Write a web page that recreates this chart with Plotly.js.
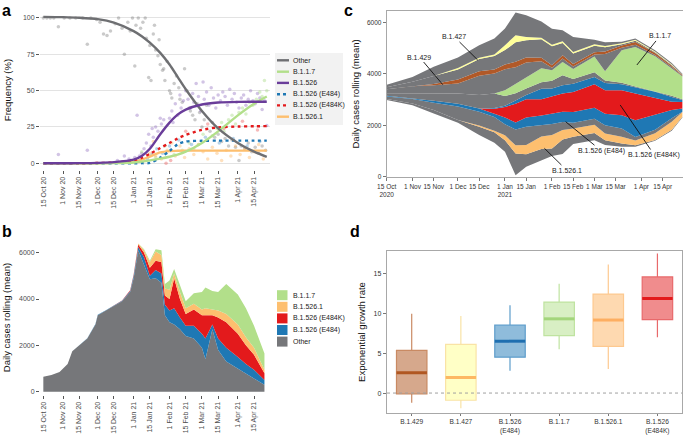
<!DOCTYPE html>
<html><head><meta charset="utf-8">
<script src="https://cdn.plot.ly/plotly-3.0.1.min.js"></script>
<style>html,body{margin:0;padding:0;background:#fff}#chart{width:683px;height:435px}</style>
</head><body><div id="chart"></div>
<script>
// ---------------- DATA ----------------
// shared date ticks
const tickDates = ['2020-10-15','2020-11-01','2020-11-15','2020-12-01','2020-12-15','2021-01-01','2021-01-15','2021-02-01','2021-02-15','2021-03-01','2021-03-15','2021-04-01','2021-04-15'];
const tickTextAB = ['15 Oct 20','1 Nov 20','15 Nov 20','1 Dec 20','15 Dec 20','1 Jan 21','15 Jan 21','1 Feb 21','15 Feb 21','1 Mar 21','15 Mar 21','1 Apr 21','15 Apr 21'];
const tickTextC = ['15 Oct<br>2020','1 Nov','15 Nov','1 Dec','15 Dec','1 Jan<br>2021','15 Jan','1 Feb','15 Feb','1 Mar','15 Mar','1 Apr','15 Apr'];

// Panel a: fitted frequency curves (%)
const aCurveDates = ['2020-10-15','2020-11-01','2020-11-15','2020-12-01','2020-12-15','2021-01-01','2021-01-08','2021-01-15','2021-01-24','2021-02-01','2021-02-08','2021-02-15','2021-03-01','2021-03-15','2021-04-01','2021-04-15','2021-04-26'];
const aOther  = [100.8,100.6,100.2,99.2,96.8,91,87.5,83,76,68,59.5,51,36,24,14,8,4.5];
const aB117   = [0,0,0,0,0.1,0.6,1.2,2,3.2,4.5,6,8,14,22,33,41,46];
const aB1526  = [0,0.05,0.1,0.3,0.8,2.5,5,10,20,28,33.5,37,40.5,41.8,42.3,42.4,42.4];
const aE484   = [0,0,0,0,0,0.05,0.1,0.3,4,8.5,13,15,15.5,15.6,15.6,15.6,15.6];
const aE484K  = [0,0,0.05,0.2,0.6,2,3.8,6.5,10.5,14,17,19.5,23,24.7,25.3,25.5,25.6];
const aB15261 = [0,0,0,0.1,0.3,1.1,2.5,4.6,7.5,8.4,8.6,8.7,8.7,8.7,8.7,8.7,8.7];
const aLegendNames = ['Other','B.1.1.7','B.1.526','B.1.526 (E484)','B.1.526 (E484K)','B.1.526.1'];

// Panel a: observed daily frequencies (points)
const ptOtherDates = ['2020-10-15','2020-10-18','2020-10-21','2020-10-24','2020-10-28','2020-11-02','2020-11-07','2020-11-12','2020-11-18','2020-11-22','2020-11-25','2020-11-30','2020-12-03','2020-12-06','2020-12-09','2020-12-12','2020-12-16','2020-12-19','2020-12-22','2020-12-24','2020-12-27','2020-12-29','2020-12-31','2021-01-02','2021-01-03','2021-01-05','2021-01-07','2021-01-09','2021-01-11','2021-01-12','2021-01-14','2021-01-15','2021-01-16','2021-01-18','2021-01-19','2021-01-20','2021-01-22','2021-01-23','2021-01-24','2021-01-26','2021-01-27','2021-01-28','2021-01-30','2021-02-01','2021-02-02','2021-02-03','2021-02-05','2021-02-07','2021-02-09','2021-02-10','2021-02-12','2021-02-14','2021-02-16','2021-02-18','2021-02-19','2021-02-21','2021-02-23','2021-02-25','2021-02-27','2021-03-01','2021-03-03','2021-03-05','2021-03-08','2021-03-10','2021-03-12','2021-03-15','2021-03-18','2021-03-21','2021-03-24','2021-03-27','2021-03-30','2021-04-02','2021-04-04','2021-04-07','2021-04-10','2021-04-13','2021-04-16','2021-04-19','2021-04-22','2021-04-25'];
const ptOther = [100,100,100,100,94,100,100,100,100,82,100,99,97,89,88,91,96,100,93,75,97,91,100,67,95,100,93,97,100,86,59,81,57,89,95,78,74,85,68,64,65,57,70,50,48,45,55,60,52,44,42,65,50,38,36,33,30,41,35,25,30,40,22,28,18,20,15,17,12,16,11,2,12,10,14,8,11,7,12,9];
const ptB1526Dates = ['2020-10-28','2020-11-22','2020-12-18','2020-12-24','2020-12-28','2021-01-02','2021-01-04','2021-01-06','2021-01-08','2021-01-10','2021-01-12','2021-01-14','2021-01-16','2021-01-17','2021-01-18','2021-01-20','2021-01-22','2021-01-24','2021-01-25','2021-01-27','2021-02-01','2021-02-03','2021-02-04','2021-02-06','2021-02-08','2021-02-10','2021-02-11','2021-02-13','2021-02-15','2021-02-17','2021-02-19','2021-02-21','2021-02-22','2021-02-24','2021-02-26','2021-02-28','2021-03-02','2021-03-03','2021-03-05','2021-03-07','2021-03-09','2021-03-11','2021-03-13','2021-03-15','2021-03-17','2021-03-19','2021-03-21','2021-03-23','2021-03-25','2021-03-27','2021-03-29','2021-03-31','2021-04-02','2021-04-04','2021-04-06','2021-04-08','2021-04-10','2021-04-12','2021-04-14','2021-04-16','2021-04-18','2021-04-20','2021-04-22','2021-04-24','2021-04-26'];
const ptB1526 = [6,9,2,5,3,4,33,5,7,10,14,20,12,24,18,25,22,31,27,30,31,36,28,41,33,47,38,43,50,44,38,48,42,55,46,36,56,44,49,40,52,45,38,47,43,49,46,40,51,44,48,42,38,45,47,40,44,50,43,41,48,45,37,43,26];
const ptB117Dates = ['2021-01-08','2021-01-20','2021-01-28','2021-02-05','2021-02-12','2021-02-18','2021-02-22','2021-02-26','2021-03-02','2021-03-06','2021-03-10','2021-03-14','2021-03-18','2021-03-20','2021-03-24','2021-03-27','2021-03-30','2021-04-02','2021-04-05','2021-04-08','2021-04-11','2021-04-14','2021-04-17','2021-04-20','2021-04-22','2021-04-24','2021-04-26'];
const ptB117 = [8,4,12,6,9,14,10,13,20,16,19,24,28,22,30,33,27,35,38,34,42,40,44,49,46,57,50];
const ptB15261Dates = ['2021-01-10','2021-01-15','2021-01-18','2021-01-20','2021-01-25','2021-01-30','2021-02-03','2021-02-06','2021-02-10','2021-02-14','2021-02-18','2021-02-22','2021-02-26','2021-03-02','2021-03-06','2021-03-10','2021-03-14','2021-03-18','2021-03-22','2021-03-26','2021-03-30','2021-04-03','2021-04-07','2021-04-11','2021-04-15','2021-04-19','2021-04-23'];
const ptB15261 = [2,7,15,5,3,9,14,5,12,4,10,6,13,8,3,11,7,2,9,5,12,6,10,4,8,13,3];
const ptE484Dates = ['2021-01-13','2021-01-17','2021-01-21','2021-01-26','2021-02-01','2021-02-09','2021-02-20','2021-03-04','2021-03-16','2021-03-28','2021-04-09','2021-04-20'];
const ptE484 = [3,6,10,7,12,16,13,18,14,17,12,15];
const ptE484KDates = ['2021-01-29','2021-02-02','2021-02-15','2021-03-06','2021-03-20','2021-04-05','2021-04-18'];
const ptE484K = [0,2,22,27,24,29,23];

// Panel b: daily cases rolling mean by lineage (stacked)
const bDates = ['2020-10-15','2020-10-22','2020-10-29','2020-11-05','2020-11-09','2020-11-15','2020-11-22','2020-11-29','2020-12-01','2020-12-08','2020-12-15','2020-12-22','2020-12-29','2021-01-01','2021-01-05','2021-01-10','2021-01-15','2021-01-20','2021-01-25','2021-01-28','2021-02-01','2021-02-05','2021-02-10','2021-02-15','2021-02-22','2021-03-01','2021-03-04','2021-03-10','2021-03-15','2021-03-22','2021-04-01','2021-04-08','2021-04-15','2021-04-24'];
const bOther  = [650,720,850,1200,1750,2000,2300,2900,3300,3500,3700,3900,4300,4900,6100,5500,4850,4900,4700,3300,3000,2900,2700,2400,2300,1900,1400,2700,1800,1300,1000,800,600,300];
const bE484   = [0,0,0,0,0,10,10,20,20,20,20,20,50,100,150,300,150,350,400,450,500,700,500,450,550,600,900,200,500,600,500,400,350,200];
const bE484K  = [0,0,0,0,0,0,0,0,0,0,10,20,30,50,100,200,350,400,500,400,500,1300,800,500,700,800,1000,400,900,1100,1000,800,650,300];
const bB15261 = [0,0,0,0,0,0,0,0,0,0,0,0,0,10,50,100,250,400,300,300,400,200,300,250,250,250,300,250,300,350,400,350,300,150];
const bB117   = [0,0,0,0,0,0,0,0,0,0,0,0,0,0,0,50,50,100,200,200,400,200,300,300,450,750,900,800,800,1300,1300,1250,950,700];
const bLegendNames = ['B.1.1.7','B.1.526.1','B.1.526 (E484K)','B.1.526 (E484)','Other'];

// Panel c: streamgraph (baseline offset + layer thickness, bottom to top)
const cDates = ['2020-10-15','2020-11-01','2020-11-15','2020-12-01','2020-12-15','2020-12-25','2021-01-01','2021-01-08','2021-01-15','2021-01-25','2021-02-01','2021-02-08','2021-02-15','2021-03-01','2021-03-08','2021-03-19','2021-03-28','2021-04-10','2021-04-21','2021-04-28'];
const cBaseline  = [2980,2780,2460,2100,1620,1320,970,60,390,650,800,880,1270,1420,1230,1160,1160,1400,1790,2300];
const cOtherA    = [40,65,130,100,320,410,450,840,480,430,300,570,280,280,190,130,60,30,30,30];
const cB15261    = [0,0,0,0,50,60,190,320,360,480,520,360,320,320,260,260,190,260,320,180];
const cOtherB    = [100,170,285,530,530,530,430,610,710,430,430,320,230,230,320,320,130,130,130,10];
const cE484Low   = [30,40,80,100,130,130,260,280,360,390,410,390,410,430,450,520,650,580,320,130];
const cE484K     = [0,0,0,0,0,190,410,720,710,630,650,710,780,910,910,970,1040,650,320,250];
const cE484High  = [0,0,0,0,0,30,50,130,160,410,320,320,320,280,280,230,230,250,190,80];
const cOtherC    = [90,180,260,400,520,560,380,280,260,250,300,390,190,190,100,60,50,30,50,30];
const cB117      = [0,0,0,0,0,0,220,360,430,540,410,520,390,610,360,1260,1530,1350,1050,880];
const cOtherD    = [160,280,340,390,750,780,820,650,580,280,90,130,90,80,670,100,90,50,60,30];
const cB1429     = [0,0,50,160,180,160,180,220,190,130,100,130,100,90,100,90,100,80,50,30];
const cOtherE    = [80,170,310,390,470,520,560,750,670,720,740,480,410,250,160,50,50,30,30,10];
const cB1427     = [0,0,0,50,50,60,190,280,130,60,60,60,60,60,50,40,40,30,30,10];
const cOtherF    = [90,190,360,410,490,620,650,880,840,630,620,430,580,170,140,50,50,40,50,30];

// Panel d: exponential growth rate boxes
const dCats  = ['B.1.429','B.1.427','B.1.526<br>(E484)','B.1.1.7','B.1.526.1','B.1.526<br>(E484K)'];
const dLow   = [-1.2,-1.9,2.8,5.5,3.0,7.0];
const dQ1    = [-0.1,-0.9,4.5,7.2,5.85,9.2];
const dMed   = [2.55,1.95,6.5,9.3,9.15,11.85];
const dQ3    = [5.35,6.1,8.5,11.4,12.4,14.55];
const dHigh  = [9.95,9.65,11.0,13.7,16.1,17.5];

// ---------------- STYLE ----------------
const FONT = 'Liberation Sans, Arial, Helvetica, sans-serif';
const C = {other:'#76777a', otherLine:'#6e6f72', b117:'#b2df8a', b1526:'#6a3d9a', e484:'#1f78b4', e484k:'#e31a1c', b15261:'#fdbf6f', b1429:'#b15928', b1427:'#ffff99'};
const W = 683, H = 435;
const px = v => v / W, py = v => 1 - v / H;

const traces = [];
// ---- panel a points
function pts(x, y, col) {
  traces.push({type:'scatter', mode:'markers', x:x, y:y, xaxis:'x', yaxis:'y',
    marker:{size:3.5, color:col, opacity:0.4}, hoverinfo:'skip', showlegend:false});
}
pts(ptOtherDates, ptOther, '#7a7a7a');
pts(ptB1526Dates, ptB1526, '#8e6bbf');
pts(ptB117Dates, ptB117, '#9fd67a');
pts(ptB15261Dates, ptB15261, '#fdb25a');
pts(ptE484Dates, ptE484, '#4a90c8');
pts(ptE484KDates, ptE484K, '#e85050');
// ---- panel a curves
const aSeries = [
  {y:aB15261, col:C.b15261, dash:'solid', name:aLegendNames[5]},
  {y:aE484, col:C.e484, dash:'3px,3.5px', name:aLegendNames[3]},
  {y:aE484K, col:C.e484k, dash:'3px,3.5px', name:aLegendNames[4]},
  {y:aB117, col:C.b117, dash:'solid', name:aLegendNames[1]},
  {y:aOther, col:C.otherLine, dash:'solid', name:aLegendNames[0]},
  {y:aB1526, col:C.b1526, dash:'solid', name:aLegendNames[2]}
];
aSeries.forEach(s => traces.push({type:'scatter', mode:'lines', x:aCurveDates, y:s.y, name:s.name,
  xaxis:'x', yaxis:'y', line:{color:s.col, width:2.4, dash:s.dash, shape:'spline', smoothing:0.8},
  hoverinfo:'skip', showlegend:false}));

// ---- panel b stacked areas
[[bOther,C.other,'Other'],[bE484,C.e484,'B.1.526 (E484)'],[bE484K,C.e484k,'B.1.526 (E484K)'],[bB15261,C.b15261,'B.1.526.1'],[bB117,C.b117,'B.1.1.7']]
.forEach(([y,col,name]) => traces.push({type:'scatter', mode:'lines', x:bDates, y:y, name:name, stackgroup:'b',
  xaxis:'x2', yaxis:'y2', line:{width:0, color:col}, fillcolor:col, hoverinfo:'skip', showlegend:false}));

// ---- panel c streamgraph
traces.push({type:'scatter', mode:'lines', x:cDates, y:cBaseline, stackgroup:'c', fill:'tozeroy',
  xaxis:'x3', yaxis:'y3', line:{width:0, color:'rgba(0,0,0,0)'}, fillcolor:'rgba(0,0,0,0)', hoverinfo:'skip', showlegend:false});
[[cOtherA,C.other],[cB15261,C.b15261],[cOtherB,C.other],[cE484Low,C.e484],[cE484K,C.e484k],[cE484High,C.e484],
 [cOtherC,C.other],[cB117,C.b117],[cOtherD,C.other],[cB1429,C.b1429],[cOtherE,C.other],[cB1427,C.b1427],[cOtherF,C.other]]
.forEach(([y,col]) => traces.push({type:'scatter', mode:'lines', x:cDates, y:y, stackgroup:'c', fill:'tonexty',
  xaxis:'x3', yaxis:'y3', line:{width:0, color:col}, fillcolor:col, hoverinfo:'skip', showlegend:false}));

// ---- panel d boxes
const dFill = ['#d6a88c','#ffffc6','#8fbcdb','#d8efc4','#fed9b0','#f08c8d'];
const dEdge = ['#c98a63','#f9e3a6','#5e9dcb','#bfe3a0','#fdc990','#e8696b'];
const dMedCol = ['#b05722','#fdb863','#1f6fb0','#a3d57c','#fdae61','#e31a1c'];
const boxW = 0.62;
dCats.forEach((c,i) => {
  traces.push({type:'box', name:c, x:[i], q1:[dQ1[i]], median:[dMed[i]], q3:[dQ3[i]], lowerfence:[dLow[i]], upperfence:[dHigh[i]],
    xaxis:'x4', yaxis:'y4', width:boxW, whiskerwidth:0, fillcolor:dFill[i], line:{color:dEdge[i], width:1.2},
    boxpoints:false, hoverinfo:'skip', showlegend:false});
  traces.push({type:'scatter', mode:'lines', x:[i-boxW/2, i+boxW/2], y:[dMed[i], dMed[i]], xaxis:'x4', yaxis:'y4',
    line:{color:dMedCol[i], width:3}, hoverinfo:'skip', showlegend:false});
});

// ---------------- LAYOUT ----------------
const tickF = {family:FONT, size:7, color:'#4d4d4d'};
const titleF = {family:FONT, size:9.5, color:'#111'};
const dateAxisAB = {type:'date', range:['2020-10-12 03:00','2021-04-28 19:00'], tickvals:tickDates, ticktext:tickTextAB,
  tickangle:-90, ticks:'outside', ticklen:3, tickcolor:'#555', tickfont:tickF, showgrid:false, zeroline:false, showline:false};
const frame = {showline:true, mirror:true, linecolor:'#a8a8a8', linewidth:1};

const shapes = [];
const annotations = [];
// panel a legend
shapes.push({type:'rect', xref:'paper', yref:'paper', x0:px(275), x1:px(343), y0:py(125), y1:py(53), fillcolor:'#f2f2f2', line:{width:0}});
const aLegCols = [C.otherLine, C.b117, C.b1526, C.e484, C.e484k, C.b15261];
const aLegDash = ['solid','solid','solid','dot','dot','solid'];
const aLegY = [60.3,71.7,82.9,94.2,105.4,116.7];
aLegendNames.forEach((n,i) => {
  shapes.push({type:'line', xref:'paper', yref:'paper', x0:px(277), x1:px(289), y0:py(aLegY[i]), y1:py(aLegY[i]),
    line:{color:aLegCols[i], width:2.4, dash:aLegDash[i]}});
  annotations.push({xref:'paper', yref:'paper', x:px(291), y:py(aLegY[i]), text:n, showarrow:false, xanchor:'left', yanchor:'middle',
    font:{family:FONT, size:7, color:'#222'}});
});
// panel b legend
const bLegCols = [C.b117, C.b15261, C.e484k, C.e484, C.other];
const bLegY = [295.2, 306.8, 318.4, 330.0, 341.6];
bLegendNames.forEach((n,i) => {
  shapes.push({type:'rect', xref:'paper', yref:'paper', x0:px(277), x1:px(287.5), y0:py(bLegY[i]+5), y1:py(bLegY[i]-5),
    fillcolor:bLegCols[i], line:{width:0}});
  annotations.push({xref:'paper', yref:'paper', x:px(291), y:py(bLegY[i]), text:n, showarrow:false, xanchor:'left', yanchor:'middle',
    font:{family:FONT, size:7, color:'#222'}});
});
// panel d zero line
shapes.push({type:'line', xref:'paper', yref:'y4', x0:px(387), x1:px(682), y0:0, y1:0, line:{color:'#a0a0a0', width:1, dash:'3px,3px'}});

// panel c labels with leader lines (label point -> text position, both in axis units)
const cLab = [
  {t:'B.1.429', x:'2020-11-21', y:3575, tx:'2020-11-05 14:00', ty:4650},
  {t:'B.1.427', x:'2020-12-14', y:4535, tx:'2020-11-28 17:00', ty:5430},
  {t:'B.1.1.7', x:'2021-03-29', y:4341, tx:'2021-04-13 05:00', ty:5470},
  {t:'B.1.526 (E484K)', x:'2021-03-18', y:2787, tx:'2021-04-09 12:00', ty:843},
  {t:'B.1.526 (E484)', x:'2021-02-10', y:2138, tx:'2021-03-05 12:00', ty:1010},
  {t:'B.1.526.1', x:'2021-01-27', y:1104, tx:'2021-02-10 14:00', ty:260}
];
cLab.forEach(l => annotations.push({xref:'x3', yref:'y3', x:l.x, y:l.y, axref:'x3', ayref:'y3', ax:l.tx, ay:l.ty,
  text:l.t, showarrow:true, arrowhead:0, arrowwidth:0.9, arrowcolor:'#111', standoff:0,
  font:{family:FONT, size:7, color:'#222'}}));

// panel letters
[['a',0,0],['b',0,221],['c',342,0],['d',348,221]].forEach(([t,x,y]) => annotations.push({xref:'paper', yref:'paper',
  x:px(x), y:py(y), text:'<b>'+t+'</b>', showarrow:false, xanchor:'left', yanchor:'top', font:{family:FONT, size:16, color:'#000'}}));

const layout = {
  width:W, height:H, margin:{l:0,r:0,t:0,b:0}, paper_bgcolor:'#fff', plot_bgcolor:'#fff',
  font:{family:FONT}, showlegend:false, boxmode:'overlay', hovermode:false,
  xaxis: Object.assign({}, dateAxisAB, {domain:[px(40), px(270)], anchor:'y'}),
  yaxis: {domain:[py(170), py(10)], anchor:'x', range:[-4.6,105.5], tickvals:[0,25,50,75,100], ticks:'outside', ticklen:3,
    tickcolor:'#555', tickfont:tickF, showgrid:true, gridcolor:'#e3e3e3', gridwidth:1, zeroline:false,
    title:{text:'Frequency (%)', font:titleF, standoff:9}},
  xaxis2: Object.assign({}, dateAxisAB, {domain:[px(40), px(270)], anchor:'y2'}),
  yaxis2: {domain:[py(395), py(240)], anchor:'x2', range:[-142,6547], tickvals:[0,2000,4000,6000], ticks:'outside', ticklen:3,
    tickcolor:'#555', tickfont:tickF, showgrid:false, zeroline:false, title:{text:'Daily cases rolling (mean)', font:titleF, standoff:6}},
  xaxis3: Object.assign({}, frame, {type:'date', domain:[px(386.7), 1], anchor:'y3', range:['2020-10-15','2021-04-28 10:00'],
    tickvals:tickDates, ticktext:tickTextC, tickangle:0, ticks:'outside', ticklen:3, tickcolor:'#777',
    tickfont:{family:FONT, size:6.5, color:'#333'}, showgrid:false, zeroline:false}),
  yaxis3: Object.assign({}, frame, {domain:[py(177), py(10.7)], anchor:'x3', range:[-12,6451], tickvals:[0,2000,4000,6000],
    ticks:'outside', ticklen:3, tickcolor:'#777', tickfont:{family:FONT, size:6.5, color:'#333'}, showgrid:false, zeroline:false,
    title:{text:'Daily cases rolling (mean)', font:titleF, standoff:5}}),
  xaxis4: Object.assign({}, frame, {domain:[px(386.7), px(682)], anchor:'y4', range:[-0.509,5.5], tickvals:[0,1,2,3,4,5],
    ticktext:dCats, tickangle:0, ticks:'outside', ticklen:2, tickcolor:'#777', tickfont:{family:FONT, size:6.6, color:'#333'},
    showgrid:false, zeroline:false}),
  yaxis4: Object.assign({}, frame, {domain:[py(413), py(251)], anchor:'x4', range:[-2.5,17.8], tickvals:[0,5,10,15],
    ticks:'outside', ticklen:3, tickcolor:'#777', tickfont:{family:FONT, size:7, color:'#333'}, showgrid:false, zeroline:false,
    title:{text:'Exponential growth rate', font:titleF, standoff:6}}),
  shapes:shapes, annotations:annotations
};
Plotly.newPlot('chart', traces, layout, {staticPlot:true, displayModeBar:false});
</script></body></html>
